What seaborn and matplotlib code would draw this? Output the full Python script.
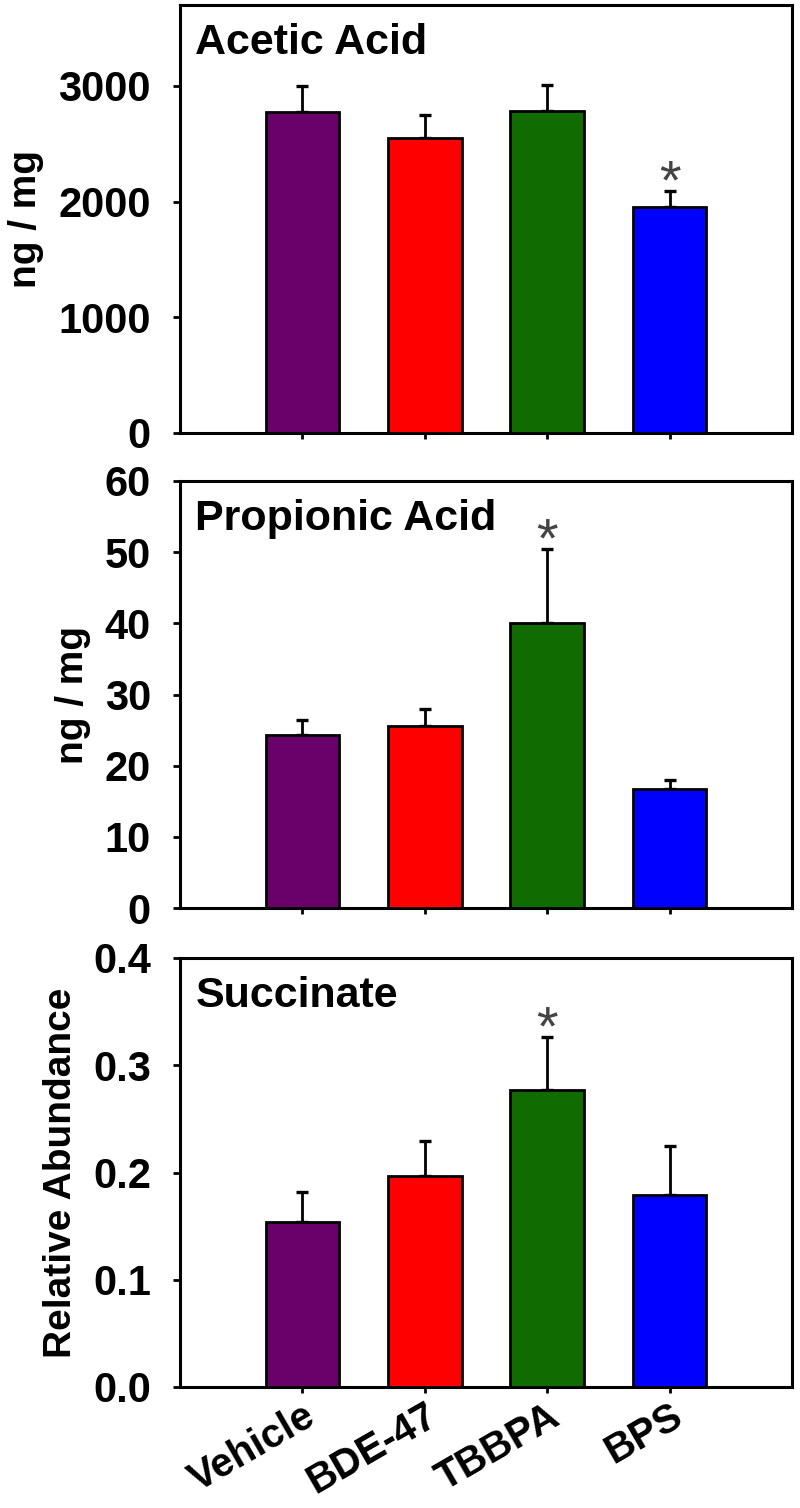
import matplotlib
matplotlib.use("Agg")
import matplotlib.pyplot as plt
import seaborn as sns
import pandas as pd

# donnees
groups = ['Vehicle', 'BDE-47', 'TBBPA', 'BPS']
colors = ['#6a006a', '#ff0000', '#106c00', '#0000ff']

acetic_mean = [2775, 2550, 2785, 1950]
acetic_sem = [225, 200, 225, 140]
acetic_sig = [False, False, False, True]

propionic_mean = [24.3, 25.6, 40.0, 16.7]
propionic_sem = [2.1, 2.4, 10.5, 1.3]
propionic_sig = [False, False, True, False]

succinate_mean = [0.154, 0.197, 0.277, 0.179]
succinate_sem = [0.028, 0.032, 0.049, 0.046]
succinate_sig = [False, False, True, False]

sns.set_style('ticks')
plt.rcParams['font.family'] = ['Liberation Sans', 'DejaVu Sans']
plt.rcParams['font.weight'] = 'bold'
for key in ['text.color', 'axes.labelcolor', 'xtick.color', 'ytick.color', 'axes.edgecolor']:
    plt.rcParams[key] = 'black'

panels = [
    ("Acetic Acid", acetic_mean, acetic_sem, acetic_sig, "ng / mg", 3700, [0, 1000, 2000, 3000], lambda v: f"{v:.0f}"),
    ("Propionic Acid", propionic_mean, propionic_sem, propionic_sig, "ng / mg", 60, [0, 10, 20, 30, 40, 50, 60], lambda v: f"{v:.0f}"),
    ("Succinate", succinate_mean, succinate_sem, succinate_sig, "Relative Abundance", 0.4, [0.0, 0.1, 0.2, 0.3, 0.4], lambda v: f"{v:.1f}"),
]

# positions des axes en pixels (haut, bas)
boxes = [(5, 433), (481, 908), (958, 1387)]
W, H = 800, 1508

fig = plt.figure(figsize=(8, 15.08), dpi=100)

for k, (title, mean, sem, sig, ylab, ytop, yticks, fmt) in enumerate(panels):
    top, bot = boxes[k]
    ax = fig.add_axes([180 / W, 1 - bot / H, 612 / W, (bot - top) / H])
    df = pd.DataFrame({'group': groups, 'value': mean})
    sns.barplot(data=df, x='group', y='value', hue='group', palette=colors,
                width=0.6, saturation=1, edgecolor='black', linewidth=2.0,
                legend=False, ax=ax, zorder=3)
    ax.errorbar(range(len(groups)), mean, yerr=[[0] * len(sem), sem], fmt='none',
                ecolor='black', elinewidth=2.0, capsize=4.5, capthick=2.4, zorder=2)
    for i, s in enumerate(sig):
        if s:
            ax.annotate('*', xy=(i, mean[i] + sem[i]), xytext=(0, -14),
                        textcoords='offset points', ha='center', va='bottom',
                        fontsize=40, fontweight='normal', color='#444444')
    ax.set_xlim(-1, 4)
    ax.set_ylim(0, ytop)
    ax.set_yticks(yticks)
    ax.set_yticklabels([fmt(v) for v in yticks])
    ax.text(0.025, 0.885, title, transform=ax.transAxes, fontsize=31,
            fontweight='bold', ha='left', va='baseline')
    ax.set_ylabel(ylab, fontsize=28, fontweight='bold', labelpad=10)
    ax.set_xlabel('')
    for sp in ax.spines.values():
        sp.set_linewidth(2.2)
    ax.tick_params(axis='y', direction='out', length=5, width=2, labelsize=30, pad=16)
    ax.tick_params(axis='x', direction='out', length=4, width=2, labelsize=29, pad=3)
    if k < 2:
        ax.set_xticklabels([])
    else:
        ax.set_xticks(range(len(groups)))
        ax.set_xticklabels(groups, rotation=30, ha='right', rotation_mode='anchor')

fig.savefig('out.png', dpi=100)
